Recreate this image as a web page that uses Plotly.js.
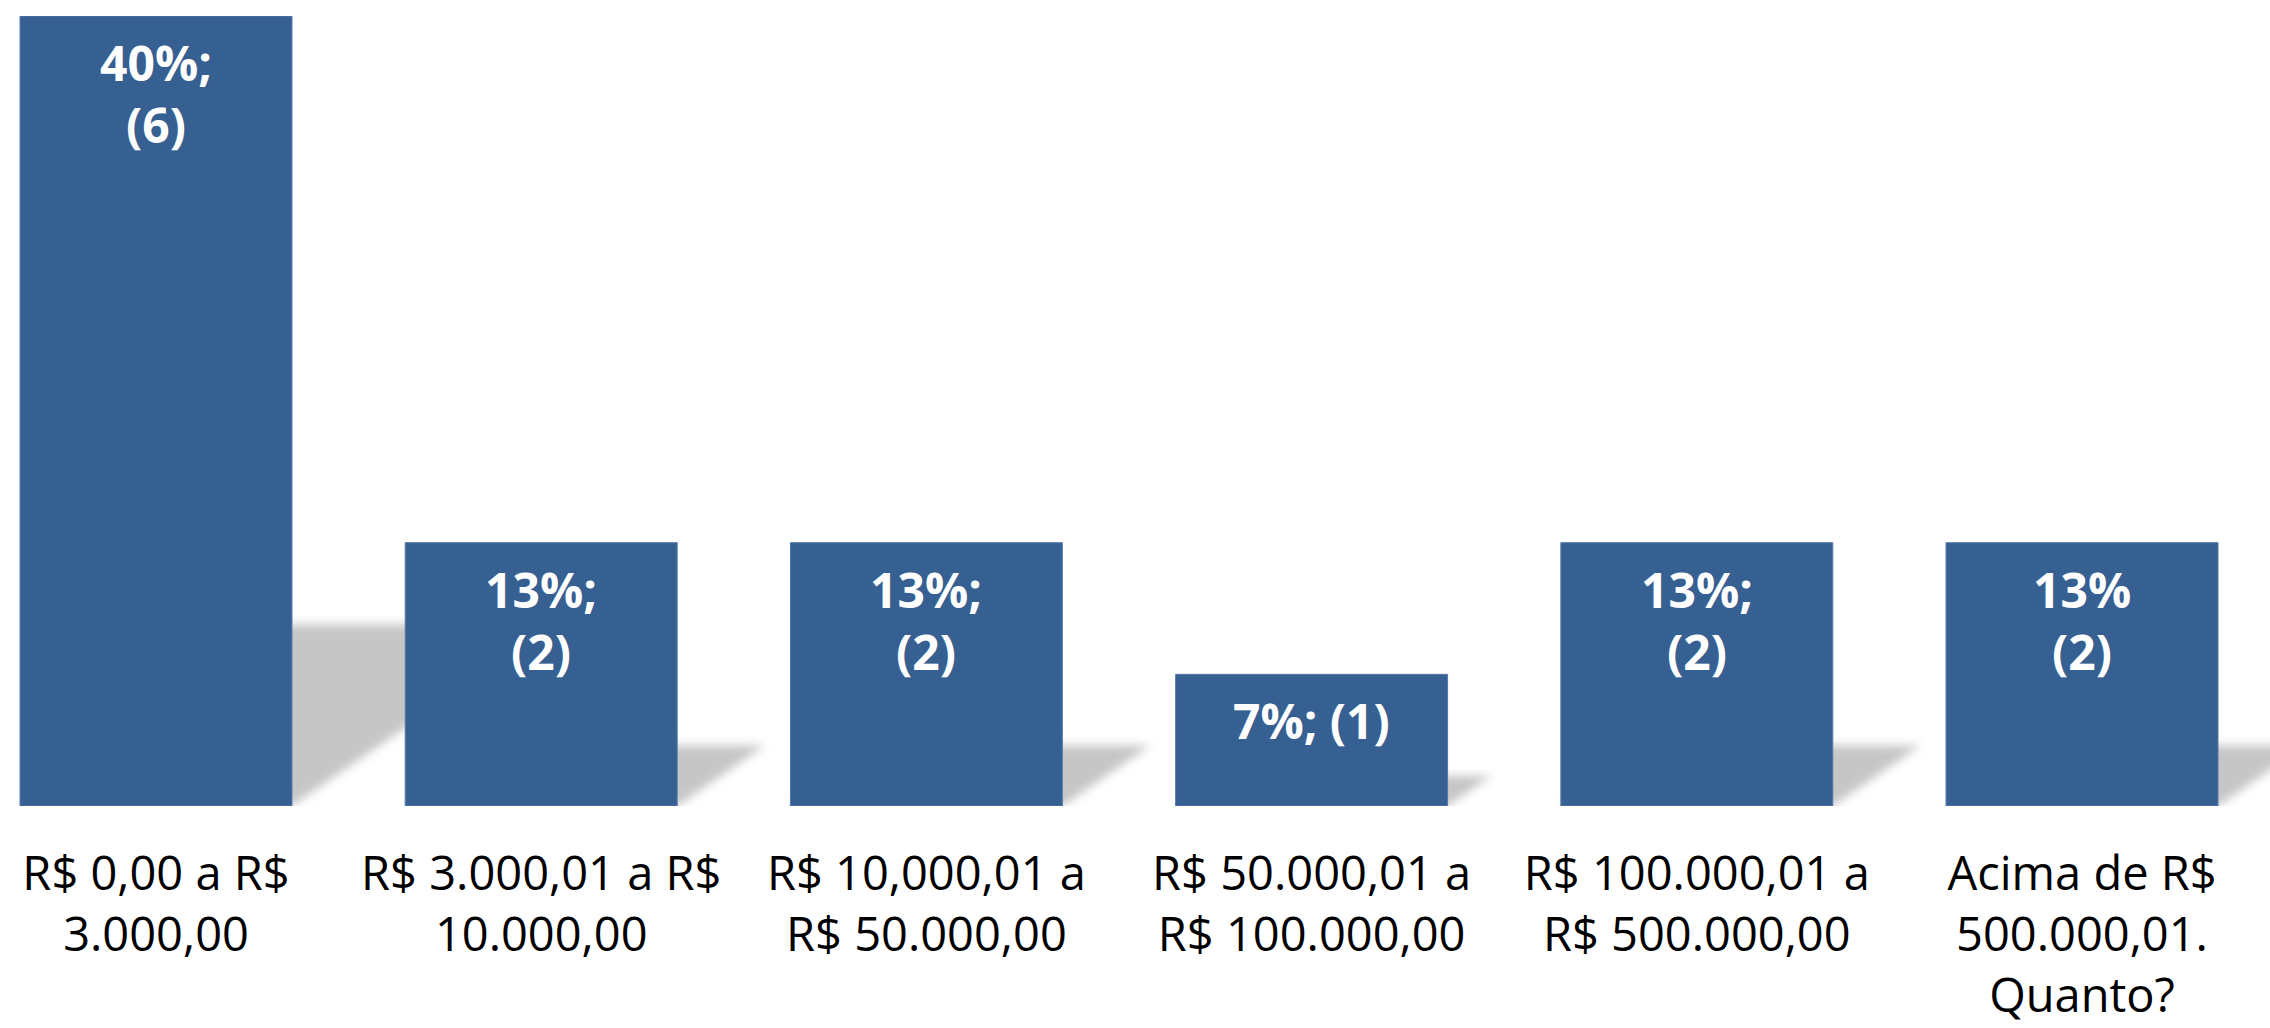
<!DOCTYPE html>
<html>
<head>
<meta charset="utf-8">
<script src="https://cdn.plot.ly/plotly-3.0.1.min.js"></script>
<style>
  html, body { margin: 0; padding: 0; background: #ffffff; }
  #chart { width: 2270px; height: 1028px; }
</style>
</head>
<body>
<div id="chart"></div>
<script>
// ---- data ----
var categories = [
  "R$ 0,00 a R$<br>3.000,00",
  "R$ 3.000,01 a R$<br>10.000,00",
  "R$ 10,000,01 a<br>R$ 50.000,00",
  "R$ 50.000,01 a<br>R$ 100.000,00",
  "R$ 100.000,01 a<br>R$ 500.000,00",
  "Acima de R$<br>500.000,01.<br>Quanto?"
];
var counts = [6, 2, 2, 1, 2, 2];
var labels = ["40%;<br>(6)", "13%;<br>(2)", "13%;<br>(2)", "7%; (1)", "13%;<br>(2)", "13%<br>(2)"];

// ---- build ----
var positions = categories.map(function (c, i) { return i; });
var barColor = "#376092";
var halfW = 0.353;           // half bar width in category units (bargap 0.294)
var shadowScale = 0.23;      // vertical squash of perspective shadow
var shadowSkew = 0.114;      // horizontal skew (x-units per y-unit)

var shapes = counts.map(function (v, i) {
  var x0 = positions[i] - halfW, x1 = positions[i] + halfW;
  var top = v * shadowScale;
  var dx = v * shadowSkew;
  return {
    type: "path", xref: "x", yref: "y", layer: "below",
    path: "M " + x0 + " 0 L " + x1 + " 0 L " + (x1 + dx) + " " + top +
          " L " + (x0 + dx) + " " + top + " Z",
    fillcolor: "#c6c6c6", line: { width: 0 }
  };
});

var annotations = counts.map(function (v, i) {
  return {
    x: positions[i], y: v, xref: "x", yref: "y",
    text: labels[i], showarrow: false,
    yanchor: "top", xanchor: "center", yshift: -12,
    font: { family: "Open Sans", size: 48, color: "#ffffff", weight: "bold" }
  };
});

var trace = {
  type: "bar",
  x: positions,
  y: counts,
  marker: { color: barColor, line: { color: "#5579a8", width: 1 } },
  hoverinfo: "skip"
};

var layout = {
  width: 2270, height: 1028,
  margin: { l: 0, r: 0, t: 16, b: 222 },
  paper_bgcolor: "#ffffff", plot_bgcolor: "rgba(0,0,0,0)",
  bargap: 0.294,
  showlegend: false,
  xaxis: {
    type: "linear",
    range: [-0.405, 5.488],
    tickvals: positions,
    ticktext: categories,
    showgrid: false, zeroline: false, showline: false,
    ticks: "", ticklabelstandoff: 36,
    tickfont: { family: "Open Sans", size: 47, color: "#000000" },
    fixedrange: true
  },
  yaxis: {
    range: [0, 6],
    visible: false, showgrid: false, zeroline: false,
    fixedrange: true
  },
  shapes: shapes,
  annotations: annotations
};

Plotly.newPlot("chart", [trace], layout, { displayModeBar: false, staticPlot: true }).then(function () {
  var svg = document.querySelector("#chart svg.main-svg");
  var ns = "http://www.w3.org/2000/svg";
  var defs = svg.querySelector("defs") || svg.insertBefore(document.createElementNS(ns, "defs"), svg.firstChild);
  var filter = document.createElementNS(ns, "filter");
  filter.setAttribute("id", "shadowBlur");
  filter.setAttribute("x", "-20%"); filter.setAttribute("y", "-20%");
  filter.setAttribute("width", "140%"); filter.setAttribute("height", "140%");
  var blur = document.createElementNS(ns, "feGaussianBlur");
  blur.setAttribute("stdDeviation", "5");
  filter.appendChild(blur);
  defs.appendChild(filter);
  document.querySelectorAll("#chart .shapelayer path").forEach(function (p) {
    p.setAttribute("filter", "url(#shadowBlur)");
  });
});
</script>
</body>
</html>
